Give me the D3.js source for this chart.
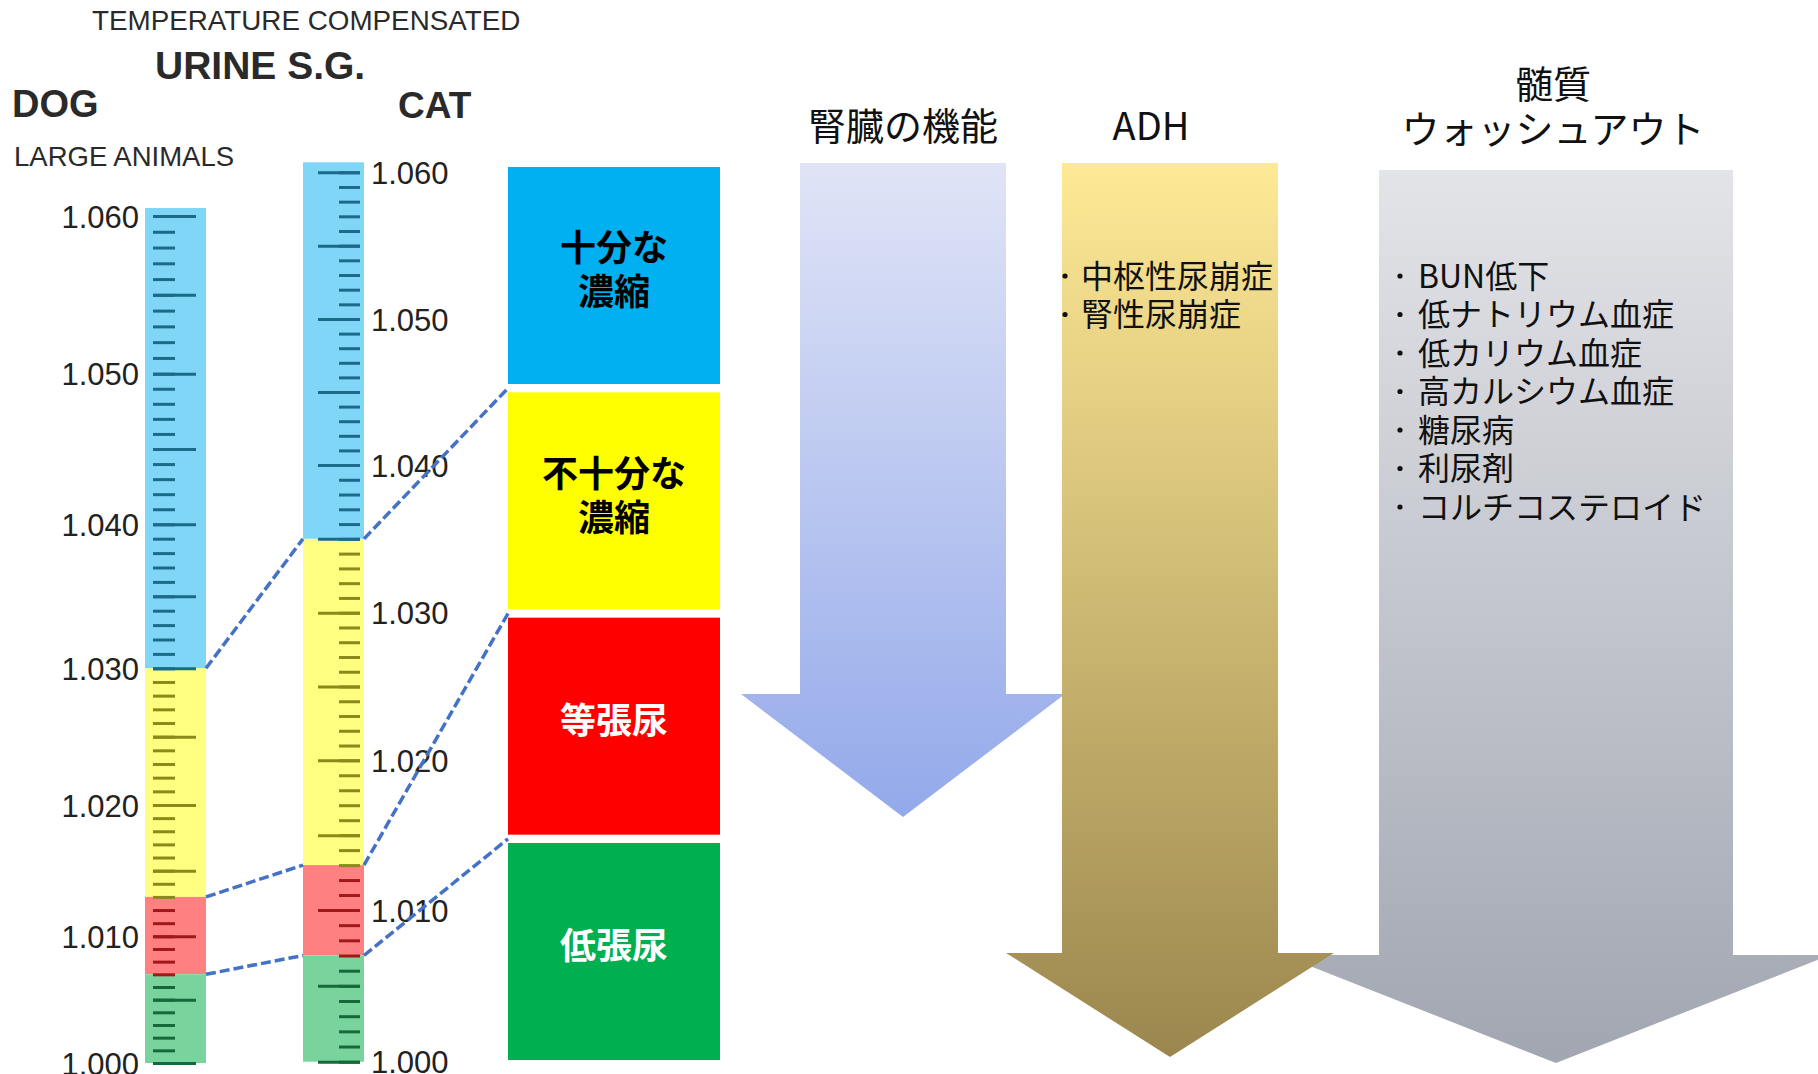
<!DOCTYPE html>
<html>
<head>
<meta charset="utf-8">
<style>
  body { margin: 0; background: #fff; }
  svg { display: block; }
  .gauge text { font-family: "Liberation Sans", Arial, sans-serif; fill: #222; }
  .head { font-family: "Liberation Sans", Arial, sans-serif; fill: #2a2a2a; }
  .jp { font-family: "Noto Sans CJK JP", sans-serif; }
</style>
</head>
<body>
<svg width="1818" height="1074"></svg>
<script src="https://d3js.org/d3.v7.min.js"></script>
<script>

// ---- data ----
var sgLabels = [1.000, 1.010, 1.020, 1.030, 1.040, 1.050, 1.060];
var zoneNames = ["十分な濃縮", "不十分な濃縮", "等張尿", "低張尿"];
var zoneLines = [["十分な", "濃縮"], ["不十分な", "濃縮"], ["等張尿"], ["低張尿"]];
var dogBreaks = [1.030, 1.013, 1.007];   // lower edge of each zone (last zone runs to 1.000)
var catBreaks = [1.035, 1.013, 1.007];
var arrowTitles = [["腎臓の機能"], ["ADH"], ["髄質", "ウォッシュアウト"]];
var arrowItems = [
  [],
  ["中枢性尿崩症", "腎性尿崩症"],
  ["BUN低下", "低ナトリウム血症", "低カリウム血症", "高カルシウム血症", "糖尿病", "利尿剤", "コルチコステロイド"]
];

// ---- styles ----
var rulerFill = ["#80d6f7", "#fefe80", "#fe8080", "#78d49c"];
var tickColor = ["#1b6a8a", "#8a8a1a", "#a01818", "#17683a"];
var boxFill = ["#00b0f0", "#ffff00", "#ff0000", "#00b050"];
var boxInk = ["#000", "#000", "#fff", "#fff"];

var svg = d3.select("svg");
svg.append("rect").attr("width", 1818).attr("height", 1074).attr("fill", "#fff");

// refractometer gauges are not quite linear, so calibrate on the printed labels
var dogY = d3.scaleLinear().domain(sgLabels).range([1063, 936.3, 805, 668.3, 524.3, 373.7, 216]);
var catY = d3.scaleLinear().domain(sgLabels).range([1061.7, 910, 760.3, 612.7, 465, 319, 172.3]);

var dog = {y: dogY, breaks: dogBreaks, x0: 145, x1: 206, over: 8},
    cat = {y: catY, breaks: catBreaks, x0: 303, x1: 364, over: 10};

function zoneOf(v, breaks) {
  for (var i = 0; i < breaks.length; i++) if (v >= breaks[i] - 1e-9) return i;
  return breaks.length;
}

var minorTicks = d3.range(1000, 1061).map(function(v) { return v / 1000; });
var majorTicks = minorTicks.filter(function(v) { return Math.round(v * 1000) % 5 === 0; });

var gauge = svg.append("g").attr("class", "gauge");

[dog, cat].forEach(function(g) {
  var top = g.y(1.060) - g.over;
  var bands = zoneNames.map(function(z, i) {
    return {
      i: i,
      hi: i === 0 ? top : g.y(g.breaks[i - 1]),
      lo: i === g.breaks.length ? g.y(1.000) : g.y(g.breaks[i])
    };
  });
  gauge.append("g").selectAll("rect")
    .data(bands)
    .enter().append("rect")
      .attr("x", g.x0)
      .attr("y", function(d) { return d.hi; })
      .attr("width", g.x1 - g.x0)
      .attr("height", function(d) { return d.lo - d.hi; })
      .attr("fill", function(d) { return rulerFill[d.i]; });
});

function drawTicks(g, axisFn, x, values, size) {
  var ax = gauge.append("g")
    .attr("transform", "translate(" + x + ",0)")
    .call(axisFn(g.y).tickValues(values).tickSize(size).tickFormat(""));
  ax.select(".domain").remove();
  ax.selectAll(".tick line")
    .attr("stroke-width", 3)
    .attr("stroke", function(d) { return tickColor[zoneOf(d, g.breaks)]; });
}
drawTicks(dog, d3.axisRight, 153, minorTicks, 22);
drawTicks(dog, d3.axisRight, 153, majorTicks, 43);
drawTicks(cat, d3.axisLeft, 360, minorTicks, 21);
drawTicks(cat, d3.axisLeft, 360, majorTicks, 42);

function drawLabels(g, axisFn, x) {
  var ax = gauge.append("g")
    .attr("transform", "translate(" + x + ",0)")
    .call(axisFn(g.y).tickValues(sgLabels).tickSize(0).tickPadding(0).tickFormat(d3.format(".3f")));
  ax.select(".domain").remove();
  ax.selectAll("text").style("font-size", "31px").attr("dy", "0.36em");
}
drawLabels(dog, d3.axisLeft, 139);
drawLabels(cat, d3.axisRight, 371);

// headings over the gauges
var heads = [
  {t: "TEMPERATURE COMPENSATED", x: 92, y: 30, s: 27.8, w: "normal"},
  {t: "URINE S.G.", x: 155, y: 79, s: 39, w: "bold"},
  {t: "DOG", x: 12, y: 117, s: 38, w: "bold"},
  {t: "CAT", x: 398, y: 118, s: 37, w: "bold"},
  {t: "LARGE ANIMALS", x: 14, y: 166, s: 27.5, w: "normal"}
];
svg.append("g").selectAll("text")
  .data(heads)
  .enter().append("text")
    .attr("class", "head")
    .attr("x", function(d) { return d.x; })
    .attr("y", function(d) { return d.y; })
    .style("font-size", function(d) { return d.s + "px"; })
    .style("font-weight", function(d) { return d.w; })
    .text(function(d) { return d.t; });

// category boxes
var boxY = d3.scaleBand().domain(zoneNames).range([167, 1060]).paddingInner(0.037);
var boxX0 = 508, boxX1 = 720;
var gap = boxY.step() - boxY.bandwidth();

var box = svg.append("g").selectAll("g")
  .data(zoneNames)
  .enter().append("g");

box.append("rect")
  .attr("x", boxX0)
  .attr("y", function(d) { return boxY(d); })
  .attr("width", boxX1 - boxX0)
  .attr("height", boxY.bandwidth())
  .attr("fill", function(d, i) { return boxFill[i]; });

box.each(function(d, i) {
  var lines = zoneLines[i],
      cy = boxY(d) + boxY.bandwidth() / 2 - 5,
      lh = 44;
  d3.select(this).selectAll("text")
    .data(lines)
    .enter().append("text")
      .attr("class", "jp")
      .attr("x", (boxX0 + boxX1) / 2)
      .attr("y", function(t, j) { return cy + (j - (lines.length - 1) / 2) * lh; })
      .attr("dy", "0.36em")
      .attr("text-anchor", "middle")
      .style("font-size", "36px")
      .style("font-weight", "bold")
      .attr("fill", boxInk[i])
      .text(function(t) { return t; });
});

// dashed connectors between zone boundaries
var links = dogBreaks.map(function(b, i) {
  return [[dog.x1, dogY(b)], [cat.x0, catY(catBreaks[i])]];
}).concat(catBreaks.map(function(b, i) {
  return [[cat.x1, catY(b)], [boxX0, boxY(zoneNames[i]) + boxY.bandwidth() + gap / 2]];
}));

svg.append("g").selectAll("path")
  .data(links)
  .enter().append("path")
    .attr("d", d3.line())
    .attr("fill", "none")
    .attr("stroke", "#4472c4")
    .attr("stroke-width", 3.5)
    .attr("stroke-dasharray", "10,4");

// the three downward arrows
var defs = svg.append("defs");
var arrowStops = [["#e0e4f6", "#93a9ea"], ["#fee996", "#9b874e"], ["#e3e4e8", "#a1a6b1"]];
var arrows = [
  {cx: 903,  half: 103, top: 163, head: 694, wing: 162, tip: 817,  titleX: 903},
  {cx: 1170, half: 108, top: 163, head: 953, wing: 164, tip: 1057, titleX: 1151},
  {cx: 1556, half: 177, top: 170, head: 955, wing: 274, tip: 1063, titleX: 1553}
];
arrows.forEach(function(a, i) {
  var lg = defs.append("linearGradient").attr("id", "ag" + i)
    .attr("x1", 0).attr("y1", 0).attr("x2", 0).attr("y2", 1);
  lg.append("stop").attr("offset", 0).attr("stop-color", arrowStops[i][0]);
  lg.append("stop").attr("offset", 1).attr("stop-color", arrowStops[i][1]);
});

function arrowPath(a) {
  var p = d3.path();
  p.moveTo(a.cx - a.half, a.top);
  p.lineTo(a.cx + a.half, a.top);
  p.lineTo(a.cx + a.half, a.head);
  p.lineTo(a.cx + a.wing, a.head);
  p.lineTo(a.cx, a.tip);
  p.lineTo(a.cx - a.wing, a.head);
  p.lineTo(a.cx - a.half, a.head);
  p.closePath();
  return p.toString();
}

// gray first so the gold head sits over its wing
var order = [2, 0, 1];
svg.append("g").selectAll("path")
  .data(order)
  .enter().append("path")
    .attr("d", function(i) { return arrowPath(arrows[i]); })
    .attr("fill", function(i) { return "url(#ag" + i + ")"; });

var titleY = [[126], [126], [84, 129]];
arrows.forEach(function(a, i) {
  var g = svg.append("g").attr("class", "jp");
  g.selectAll("text.title")
    .data(arrowTitles[i])
    .enter().append("text")
      .attr("class", "title")
      .attr("x", a.titleX)
      .attr("y", function(t, j) { return titleY[i][j]; })
      .attr("dy", "0.36em")
      .attr("text-anchor", "middle")
      .style("font-size", "38px")
      .attr("fill", "#111")
      .text(function(t) { return t; });

  var item = g.selectAll("g.item")
    .data(arrowItems[i])
    .enter().append("g")
      .attr("class", "item")
      .attr("transform", function(t, j) { return "translate(" + (a.cx - a.half) + "," + (276 + j * 38.5) + ")"; });
  item.append("circle")
    .attr("cx", i === 1 ? 3 : 21)
    .attr("cy", 0)
    .attr("r", 2.6)
    .attr("fill", "#111");
  item.append("text")
    .attr("x", i === 1 ? 19 : 39)
    .attr("dy", "0.36em")
    .style("font-size", "32px")
    .attr("fill", "#111")
    .text(function(t) { return t; });
});

</script>
</body>
</html>
